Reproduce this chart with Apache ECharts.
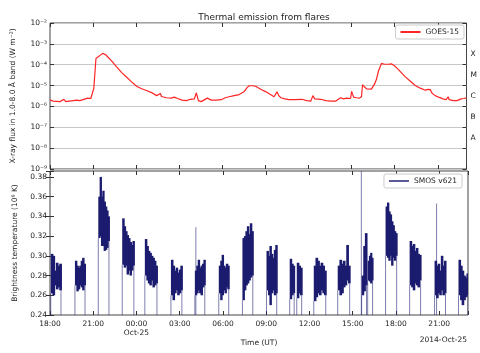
<!DOCTYPE html>
<html>
<head>
<meta charset="utf-8">
<script src="https://cdn.jsdelivr.net/npm/echarts@6/dist/echarts.min.js"></script>
<style>
  html, body { margin: 0; padding: 0; background: #fff; }
  #chart { width: 480px; height: 353px; }
</style>
</head>
<body>
<div id="chart"></div>
<script>
// x values are hours after 2014-10-24 18:00 UT
const xTickLabels = ['18:00', '21:00', '00:00\nOct-25', '03:00', '06:00', '09:00', '12:00', '15:00', '18:00', '21:00'];
const flareClasses = ['A', 'B', 'C', 'M', 'X'];     // centred on 10^-7.5 ... 10^-3.5

// GOES-15 1.0-8.0 A flux, [hour, W m^-2]
const goesReadings = [
  [0, 2.1e-6], [0.2, 1.8e-6], [0.7, 1.7e-6], [0.97, 2.2e-6], [1.1, 1.7e-6], [1.87, 2.0e-6],
  [2.08, 1.9e-6], [2.63, 2.5e-6], [2.84, 2.4e-6], [3.05, 7.4e-6], [3.2, 2.0e-4], [3.33, 2.3e-4],
  [3.67, 3.5e-4], [3.88, 3.0e-4], [4.3, 1.5e-4], [4.64, 7.9e-5], [4.99, 4.2e-5], [5.34, 2.5e-5],
  [5.68, 1.5e-5], [6.03, 9.3e-6], [6.38, 7.0e-6], [6.72, 5.8e-6], [7.07, 4.6e-6], [7.42, 3.3e-6],
  [7.69, 4.2e-6], [7.76, 3.0e-6], [8.1, 2.6e-6], [8.45, 2.5e-6], [8.66, 2.8e-6], [8.87, 2.4e-6],
  [9.2, 2.0e-6], [9.5, 1.9e-6], [9.77, 2.2e-6], [10.05, 2.3e-6], [10.19, 4.5e-6], [10.33, 1.9e-6],
  [10.53, 1.7e-6], [10.95, 2.5e-6], [11.23, 2.0e-6], [11.57, 2.0e-6], [11.92, 2.1e-6], [12.2, 2.6e-6],
  [12.47, 2.9e-6], [12.82, 3.3e-6], [13.17, 3.7e-6], [13.5, 5.0e-6], [13.72, 8.0e-6], [13.86, 9.8e-6],
  [14.14, 9.8e-6], [14.35, 9.0e-6], [14.7, 6.5e-6], [15.04, 5.0e-6], [15.32, 3.8e-6], [15.6, 2.9e-6],
  [15.8, 5.0e-6], [15.94, 3.2e-6], [16.08, 2.6e-6], [16.35, 2.3e-6], [16.63, 2.1e-6], [17.05, 2.1e-6],
  [17.53, 2.2e-6], [17.88, 1.9e-6], [18.16, 1.8e-6], [18.3, 3.3e-6], [18.43, 2.3e-6], [18.85, 2.2e-6],
  [19.2, 1.9e-6], [19.54, 1.8e-6], [19.9, 1.8e-6], [20.24, 2.6e-6], [20.44, 2.3e-6], [20.65, 2.5e-6],
  [20.93, 2.4e-6], [21.0, 5.3e-6], [21.14, 2.8e-6], [21.34, 2.6e-6], [21.55, 2.5e-6], [21.69, 3.0e-6],
  [21.76, 1.1e-5], [21.9, 8.5e-6], [22.04, 7.0e-6], [22.38, 6.8e-6], [22.6, 1.2e-5], [22.73, 2.0e-5],
  [22.87, 5.0e-5], [23.08, 1.15e-4], [23.28, 1.05e-4], [23.56, 1.05e-4], [23.77, 1.1e-4], [23.98, 9.0e-5],
  [24.19, 6.5e-5], [24.46, 4.2e-5], [24.74, 2.6e-5], [25.09, 1.6e-5], [25.43, 1.0e-5], [25.78, 7.5e-6],
  [26.13, 6.0e-6], [26.33, 6.6e-6], [26.47, 6.4e-6], [26.6, 4.3e-6], [26.82, 3.3e-6], [27.1, 2.7e-6],
  [27.37, 2.3e-6], [27.58, 2.1e-6], [27.72, 2.9e-6], [27.79, 2.1e-6], [28.07, 1.9e-6], [28.34, 1.9e-6],
  [28.62, 2.3e-6], [28.82, 2.4e-6], [29.0, 2.6e-6]
];

// SMOS passes: [start hour, end hour, upper envelope (10^6 K), lower envelope]
const smosPasses = [
  [0.05, 0.76, [0.302, 0.300, 0.285, 0.293, 0.290, 0.292], [0.262, 0.260, 0.270, 0.266, 0.268, 0.265]],
  [1.73, 2.43, [0.295, 0.290, 0.288, 0.290, 0.295, 0.298, 0.292], [0.270, 0.264, 0.266, 0.270, 0.268, 0.265, 0.270]],
  [3.35, 4.09, [0.360, 0.380, 0.360, 0.366, 0.355, 0.350, 0.346, 0.340], [0.318, 0.320, 0.310, 0.310, 0.305, 0.306, 0.308, 0.315]],
  [5.01, 5.82, [0.338, 0.330, 0.325, 0.321, 0.318, 0.314, 0.311, 0.315], [0.291, 0.288, 0.290, 0.281, 0.285, 0.280, 0.285, 0.290]],
  [6.58, 7.42, [0.317, 0.310, 0.305, 0.303, 0.300, 0.298, 0.295, 0.290], [0.280, 0.275, 0.272, 0.270, 0.275, 0.268, 0.270, 0.272]],
  [8.39, 9.15, [0.296, 0.290, 0.285, 0.288, 0.283, 0.286, 0.290], [0.260, 0.255, 0.262, 0.265, 0.260, 0.262, 0.265]],
  [10.05, 10.74, [0.285, 0.290, 0.296, 0.288, 0.290, 0.292, 0.296], [0.260, 0.262, 0.265, 0.262, 0.260, 0.268, 0.270]],
  [11.71, 12.40, [0.290, 0.295, 0.301, 0.290, 0.288, 0.292, 0.290], [0.262, 0.255, 0.260, 0.265, 0.262, 0.268, 0.266]],
  [13.35, 14.07, [0.318, 0.320, 0.325, 0.330, 0.322, 0.333, 0.325], [0.255, 0.265, 0.270, 0.272, 0.275, 0.278, 0.280]],
  [15.02, 15.73, [0.305, 0.300, 0.310, 0.302, 0.298, 0.306, 0.311], [0.265, 0.260, 0.250, 0.262, 0.265, 0.260, 0.262]],
  [16.63, 16.94, [0.297, 0.292, 0.290], [0.256, 0.260, 0.262]],
  [17.12, 17.46, [0.293, 0.290, 0.288], [0.257, 0.262, 0.260]],
  [18.30, 19.13, [0.290, 0.298, 0.295, 0.290, 0.293, 0.290, 0.285], [0.254, 0.258, 0.262, 0.260, 0.265, 0.262, 0.260]],
  [19.96, 20.79, [0.290, 0.296, 0.292, 0.295, 0.290, 0.311, 0.290], [0.265, 0.260, 0.262, 0.268, 0.270, 0.275, 0.272]],
  [21.62, 21.96, [0.280, 0.310, 0.323], [0.260, 0.264, 0.270]],
  [22.04, 22.38, [0.295, 0.300, 0.303, 0.298], [0.275, 0.274, 0.272, 0.275]],
  [23.28, 24.05, [0.350, 0.354, 0.345, 0.342, 0.335, 0.331, 0.325, 0.323], [0.300, 0.298, 0.295, 0.300, 0.290, 0.298, 0.295, 0.300]],
  [24.95, 25.71, [0.315, 0.310, 0.312, 0.305, 0.308, 0.302, 0.301], [0.270, 0.268, 0.265, 0.272, 0.270, 0.268, 0.275]],
  [26.68, 27.44, [0.295, 0.290, 0.292, 0.285, 0.300, 0.290, 0.295], [0.260, 0.257, 0.262, 0.260, 0.265, 0.260, 0.262]],
  [28.34, 29.00, [0.296, 0.290, 0.285, 0.280, 0.278, 0.282], [0.260, 0.255, 0.250, 0.255, 0.258, 0.260]]
];
// single-sample spikes: [hour, peak]
const smosSpikes = [[10.12, 0.329], [21.60, 0.400], [26.82, 0.353]];

const TB_MIN = 0.24;
const font = 'DejaVu Sans';
const ink = '#222';

const supMap = {'-': '⁻', '0': '⁰', '1': '¹', '2': '²', '3': '³', '4': '⁴', '5': '⁵', '6': '⁶', '7': '⁷', '8': '⁸', '9': '⁹'};
function powerLabel(v) {
  const e = String(Math.round(Math.log10(v)));
  return '10' + e.split('').map(c => supMap[c]).join('');
}

// build SMOS blocks and thin lines
const smosBlocks = [];
const smosLines = [];
smosPasses.forEach(([t0, t1, highs, lows]) => {
  const dt = (t1 - t0) / highs.length;
  highs.forEach((h, i) => {
    smosBlocks.push([t0 + i * dt, t0 + (i + 1) * dt, lows[i], h]);
  });
  smosLines.push([t0, TB_MIN, lows[0]]);
  smosLines.push([t1, TB_MIN, lows[lows.length - 1]]);
});
smosSpikes.forEach(([t, top]) => smosLines.push([t, TB_MIN, top]));

const myChart = echarts.init(document.getElementById('chart'), null, {renderer: 'canvas'});

const xCommon = {
  type: 'value', min: 0, max: 29, interval: 3,
  axisLine: {show: false},
  axisTick: {show: true, inside: true, length: 4, lineStyle: {color: '#333'}},
  splitLine: {show: false}
};
const hiddenLabel = {show: false};

myChart.setOption({
  animation: false,
  backgroundColor: '#fff',
  textStyle: {fontFamily: font},
  title: {
    text: 'Thermal emission from flares',
    left: 259, top: 8, textAlign: 'center',
    textStyle: {fontFamily: font, fontSize: 9, fontWeight: 'normal', color: ink}
  },
  legend: [
    {
      data: [{name: 'GOES-15', icon: 'rect'}],
      right: 16, top: 25,
      itemWidth: 20, itemHeight: 2,
      padding: [3, 5, 3, 5],
      borderColor: '#ccc', borderWidth: 1, borderRadius: 2,
      backgroundColor: '#fff',
      textStyle: {fontFamily: font, fontSize: 7.5, color: ink}
    },
    {
      data: [{name: 'SMOS v621', icon: 'rect', itemStyle: {color: '#5a5a98'}}],
      right: 18, top: 174,
      itemWidth: 20, itemHeight: 2,
      padding: [3, 5, 3, 5],
      borderColor: '#ccc', borderWidth: 1, borderRadius: 2,
      backgroundColor: '#fff',
      textStyle: {fontFamily: font, fontSize: 7.5, color: ink}
    }
  ],
  grid: [
    {left: 50, top: 23, width: 418, height: 146, show: true, borderColor: '#444', borderWidth: 1, backgroundColor: 'transparent'},
    {left: 50, top: 171, width: 418, height: 144, show: true, borderColor: '#444', borderWidth: 1, backgroundColor: 'transparent'}
  ],
  xAxis: [
    Object.assign({}, xCommon, {gridIndex: 0, position: 'bottom', axisLabel: hiddenLabel}),
    Object.assign({}, xCommon, {gridIndex: 0, position: 'top', axisLabel: hiddenLabel}),
    Object.assign({}, xCommon, {
      gridIndex: 1, position: 'bottom',
      name: 'Time (UT)', nameLocation: 'middle', nameGap: 23,
      nameTextStyle: {fontFamily: font, fontSize: 7.5, color: ink},
      axisLabel: {
        show: true, fontFamily: font, fontSize: 7.5, color: ink, margin: 5, lineHeight: 9,
        formatter: v => (v % 3 === 0 ? xTickLabels[v / 3] : '')
      }
    }),
    Object.assign({}, xCommon, {gridIndex: 1, position: 'top', axisLabel: hiddenLabel})
  ],
  yAxis: [
    {
      gridIndex: 0, type: 'log', logBase: 10, min: 1e-9, max: 1e-2, position: 'left',
      name: 'X-ray flux in 1.0-8.0 Å band (W m⁻²)', nameLocation: 'middle', nameGap: 33,
      nameTextStyle: {fontFamily: font, fontSize: 7.5, color: ink},
      axisLine: {show: false},
      axisTick: {show: true, inside: true, length: 4, lineStyle: {color: '#333'}},
      axisLabel: {fontFamily: font, fontSize: 7.5, color: ink, margin: 3, formatter: powerLabel},
      splitLine: {show: true, lineStyle: {color: '#c8c8c8', width: 1}}
    },
    {
      gridIndex: 0, type: 'value', min: -9, max: -2, interval: 0.5, position: 'right',
      axisLine: {show: false}, axisTick: {show: false}, splitLine: {show: false},
      axisLabel: {
        fontFamily: font, fontSize: 7.5, color: ink, margin: 4,
        formatter: v => {
          const k = Math.round(v + 7.5);
          return (Math.abs(v - Math.round(v)) > 0.25 && k >= 0 && k < flareClasses.length) ? flareClasses[k] : '';
        }
      }
    },
    {
      gridIndex: 1, type: 'value', min: 0.24, max: 0.386, interval: 0.02, position: 'left',
      name: 'Brightness temperature (10⁶ K)', nameLocation: 'middle', nameGap: 29,
      nameTextStyle: {fontFamily: font, fontSize: 7.5, color: ink},
      axisLine: {show: false},
      axisTick: {show: true, inside: true, length: 4, lineStyle: {color: '#333'}},
      axisLabel: {
        fontFamily: font, fontSize: 7.5, color: ink, margin: 3,
        formatter: v => (Math.abs(v * 50 - Math.round(v * 50)) < 1e-6 ? v.toFixed(2) : '')
      },
      splitLine: {show: false}
    },
    {
      gridIndex: 1, type: 'value', min: 0.24, max: 0.386, interval: 0.02, position: 'right',
      axisLine: {show: false},
      axisTick: {show: true, inside: true, length: 4, lineStyle: {color: '#333'}},
      axisLabel: {show: false}, splitLine: {show: false}
    },
    {
      gridIndex: 0, type: 'log', logBase: 10, min: 1e-9, max: 1e-2, position: 'right',
      axisLine: {show: false},
      axisTick: {show: true, inside: true, length: 4, lineStyle: {color: '#333'}},
      axisLabel: {show: false}, splitLine: {show: false}
    }
  ],
  graphic: [{
    type: 'text', right: 13, top: 336,
    style: {text: '2014-Oct-25', fontFamily: font, fontSize: 7.5, fill: ink}
  }],
  series: [
    {
      name: 'GOES-15', type: 'line', xAxisIndex: 0, yAxisIndex: 0,
      data: goesReadings, showSymbol: false, symbol: 'none',
      lineStyle: {color: '#ff2424', width: 1.2}, itemStyle: {color: '#ff2424'}
    },
    {
      name: 'SMOS v621', type: 'custom', xAxisIndex: 2, yAxisIndex: 2, clip: true,
      encode: {x: 0, y: [1, 2]},
      data: smosLines,
      itemStyle: {color: '#5a5a98'},
      renderItem: (params, api) => {
        const a = api.coord([api.value(0), api.value(1)]);
        const b = api.coord([api.value(0), api.value(2)]);
        return {
          type: 'line',
          shape: {x1: a[0], y1: a[1], x2: b[0], y2: b[1]},
          style: {stroke: 'rgba(40,40,120,0.6)', lineWidth: 1}
        };
      }
    },
    {
      name: 'SMOS v621', type: 'custom', xAxisIndex: 2, yAxisIndex: 2, clip: true,
      encode: {x: [0, 1], y: [2, 3]},
      data: smosBlocks,
      itemStyle: {color: '#5a5a98'},
      renderItem: (params, api) => {
        const a = api.coord([api.value(0), api.value(3)]);
        const b = api.coord([api.value(1), api.value(2)]);
        return {
          type: 'rect',
          shape: {x: a[0], y: a[1], width: Math.max(1, b[0] - a[0] + 1), height: b[1] - a[1]},
          style: {fill: '#1b1b6f'}
        };
      }
    }
  ]
});
</script>
</body>
</html>
